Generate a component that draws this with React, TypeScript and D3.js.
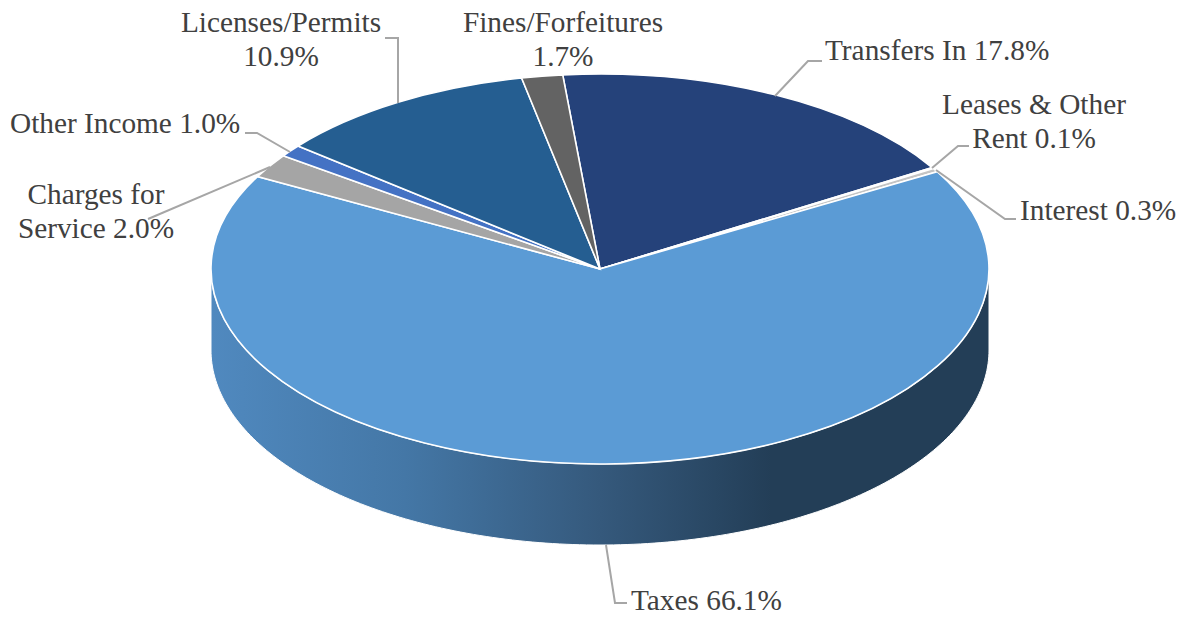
import React from "react";
import * as d3 from "d3";

const categories = ["Transfers In", "Leases & Other Rent", "Interest", "Taxes", "Charges for Service", "Other Income", "Licenses/Permits", "Fines/Forfeitures"];
const shares = [17.8, 0.1, 0.3, 66.1, 2.0, 1.0, 10.9, 1.7];
const sliceColors = ["#25427a", "#9c9c9c", "#c4c4c4", "#5b9bd5", "#a5a5a5", "#4472c4", "#255e91", "#636363"];

// label text lines, anchor and leader elbows, in the same order as categories
const labelLines = [
  ["Transfers In 17.8%"],
  ["Leases & Other", "Rent 0.1%"],
  ["Interest 0.3%"],
  ["Taxes 66.1%"],
  ["Charges for", "Service 2.0%"],
  ["Other Income 1.0%"],
  ["Licenses/Permits", "10.9%"],
  ["Fines/Forfeitures", "1.7%"],
];
const labelPos: [number, number, string][] = [
  [825, 60, "start"],
  [1034, 114, "middle"],
  [1020, 220, "start"],
  [631, 610, "start"],
  [96, 204, "middle"],
  [10, 133, "start"],
  [281, 32, "middle"],
  [563, 32, "middle"],
];
const leaders: ([number, number][] | null)[] = [
  [[775, 96], [808, 61], [822, 61]],
  [[932, 168], [958, 146], [969, 146]],
  [[936, 170], [1005, 219], [1016, 219]],
  [[606, 545], [615, 603], [627, 603]],
  [[270, 167], [148, 219]],
  [[290, 152], [257, 133], [245, 133]],
  [[398, 103], [398, 38], [385, 38]],
  null,
];

const width = 1181;
const height = 617;
const cx = 600;
const cy = 269;
const rx = 389;
const ry = 195;
const depth = 81;
const startAngle = (-5.5 * Math.PI) / 180;

export default function App() {
  const pie = d3
    .pie<number>()
    .sort(null)
    .startAngle(startAngle)
    .endAngle(startAngle + 2 * Math.PI);
  const arcs = pie(shares);
  const arc = d3.arc<d3.PieArcDatum<number>>().innerRadius(0).outerRadius(rx);

  // front wall of the disc: lower half of the ellipse, extruded by depth
  const lowerAngles = d3.range(90, 270.5, 1).map((a) => (a * Math.PI) / 180);
  const ex = (a: number) => cx + rx * Math.sin(a);
  const ey = (a: number) => cy - ry * Math.cos(a);
  const wall = d3.line()([
    ...lowerAngles.map((a) => [ex(a), ey(a)] as [number, number]),
    ...[...lowerAngles].reverse().map((a) => [ex(a), ey(a) + depth] as [number, number]),
  ]) + "Z";

  const leaderLine = d3.line();

  return (
    <svg
      width={width}
      height={height}
      style={{ position: "absolute", left: 0, top: 0, background: "#fff" }}
      fontFamily="'Liberation Serif', serif"
    >
      <defs>
        <linearGradient id="wallFill" gradientUnits="userSpaceOnUse" x1={cx - rx} x2={cx + rx} y1={0} y2={0}>
          <stop offset="0" stopColor="#5089bf" />
          <stop offset="0.25" stopColor="#4477a6" />
          <stop offset="0.5" stopColor="#35597c" />
          <stop offset="0.72" stopColor="#233e57" />
          <stop offset="1" stopColor="#233e57" />
        </linearGradient>
      </defs>

      {/* wall */}
      <path d={wall} fill="url(#wallFill)" stroke="#fff" strokeWidth={1} />

      {/* top face */}
      <g transform={`translate(${cx},${cy}) scale(1,${ry / rx})`}>
        {arcs.map((d, i) => (
          <path
            key={categories[i]}
            d={arc(d) as string}
            fill={sliceColors[i]}
            stroke="#fff"
            strokeWidth={1.6}
            vectorEffect="non-scaling-stroke"
          />
        ))}
      </g>

      {/* leader lines */}
      {leaders.map((pts, i) =>
        pts ? (
          <path key={i} d={leaderLine(pts) as string} fill="none" stroke="#a6a6a6" strokeWidth={2} />
        ) : null
      )}

      {/* labels */}
      {labelLines.map((lines, i) => (
        <text
          key={i}
          x={labelPos[i][0]}
          y={labelPos[i][1]}
          textAnchor={labelPos[i][2]}
          fontSize={29.3}
          fill="#404040"
        >
          {lines.map((t, j) => (
            <tspan key={j} x={labelPos[i][0]} dy={j === 0 ? 0 : 34}>
              {t}
            </tspan>
          ))}
        </text>
      ))}
    </svg>
  );
}
